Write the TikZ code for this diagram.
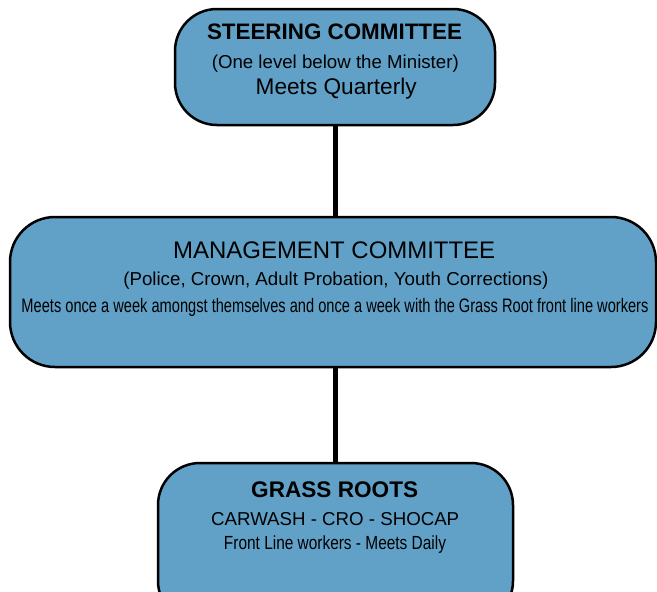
\documentclass[tikz,border=0pt]{standalone}
\usepackage{fontspec}
\setmainfont{Liberation Sans}
\usepackage{graphicx}
\definecolor{boxblue}{RGB}{97,161,199}
\newcommand{\fitw}[2]{\resizebox{#1}{\height}{#2}}
\newcommand{\fitu}[2]{\resizebox{#1}{!}{#2}}
\tikzset{
  box/.style={draw=black, line width=2.5pt, fill=boxblue, rounded corners=42pt, inner sep=0pt, outer sep=0pt},
  txt/.style={anchor=base, inner sep=0pt, outer sep=0pt, text=black},
  link/.style={draw=black, line width=5pt}
}
\begin{document}
\begin{tikzpicture}[x=1pt,y=-1pt]
\useasboundingbox (0,0) rectangle (657,592);
\clip (0,0) rectangle (657,592);
% boxes
\node[box, minimum width=320pt, minimum height=116pt] (steer) at (335,67) {};
\node[box, minimum width=646pt, minimum height=150pt, rounded corners=45pt] (mgmt) at (333,292) {};
\node[box, minimum width=355pt, minimum height=160pt] (grass) at (335.5,543) {};
% connectors
\draw[link] (steer.south) -- (steer.south |- mgmt.north);
\draw[link] (steer.south |- mgmt.south) -- (steer.south |- grass.north);
% steering committee text
\node[txt] (s1) at (334.5,39.3) {\fitu{255pt}{\fontsize{21}{25}\selectfont\bfseries STEERING COMMITTEE}};
\node[txt] (s2) at (335.3,68.3) {\fitu{247pt}{\fontsize{16.5}{20}\selectfont (One level below the Minister)}};
\node[txt] (s3) at (336.2,94) {\fitu{161pt}{\fontsize{20.5}{24}\selectfont Meets Quarterly}};
% management committee text
\node[txt] (m1) at (334.2,258.3) {\fitu{322pt}{\fontsize{23}{27}\selectfont MANAGEMENT COMMITTEE}};
\node[txt] (m2) at (335.8,285) {\fitu{425pt}{\fontsize{16.3}{20}\selectfont (Police, Crown, Adult Probation, Youth Corrections)}};
\node[txt] (m3) at (335,312.7) {\fitw{627pt}{\fontsize{19.5}{23}\selectfont Meets once a week amongst themselves and once a week with the Grass Root front line workers}};
% grass roots text
\node[txt] (g1) at (334.7,497.3) {\fitu{167pt}{\fontsize{21}{25}\selectfont\bfseries GRASS ROOTS}};
\node[txt] (g2) at (335.2,525) {\fitu{248pt}{\fontsize{18.6}{22}\selectfont CARWASH - CRO - SHOCAP}};
\node[txt] (g3) at (335,549) {\fitw{222pt}{\fontsize{19}{23}\selectfont Front Line workers - Meets Daily}};
\end{tikzpicture}
\end{document}
